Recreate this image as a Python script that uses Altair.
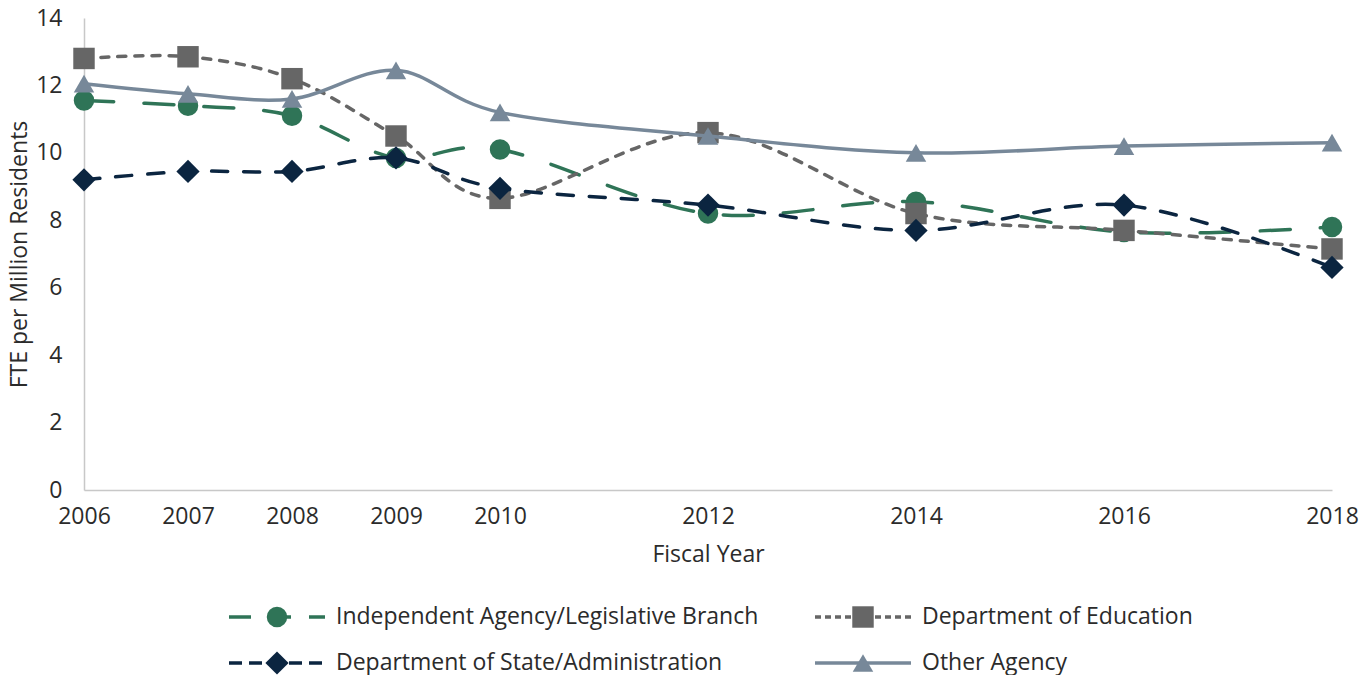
import altair as alt
import pandas as pd

# Fiscal years on the x axis
years = [2006, 2007, 2008, 2009, 2010, 2012, 2014, 2016, 2018]

# FTE per million residents, by agency type
independent = [11.55, 11.4, 11.1, 9.85, 10.1, 8.2, 8.55, 7.65, 7.8]
education = [12.8, 12.85, 12.2, 10.5, 8.65, 10.6, 8.2, 7.7, 7.15]
state = [9.2, 9.45, 9.45, 9.85, 8.95, 8.45, 7.7, 8.45, 6.6]
other = [12.05, 11.75, 11.6, 12.45, 11.2, 10.5, 10.0, 10.2, 10.3]

series_names = [
    "Independent Agency/Legislative Branch",
    "Department of Education",
    "Department of State/Administration",
    "Other Agency",
]
series_values = [independent, education, state, other]

# Style per series: colour, marker, dash in chart, dash in legend, marker size
styles = {
    "Independent Agency/Legislative Branch": ("#2f7457", "circle", [30, 30], [22, 18], 420),
    "Department of Education": ("#666666", "square", [8, 9], [6, 4], 460),
    "Department of State/Administration": ("#0b2540", "diamond", [16, 16], [13, 7], 540),
    "Other Agency": ("#778899", "triangle-up", None, None, 420),
}

FONT = "Open Sans"
FS = 23
TEXT = "#2b2b2b"
W, H = 1248, 472

x_scale = alt.Scale(domain=[2006, 2018], nice=False, zero=False)
y_scale = alt.Scale(domain=[0, 14], nice=False)

layers = []
for name, vals in zip(series_names, series_values):
    color, shape, dash, _, size = styles[name]
    df = pd.DataFrame({"year": years, "fte": vals, "series": name})
    line_kw = dict(color=color, strokeWidth=3.5, interpolate="cardinal", strokeCap="round")
    if dash:
        line_kw["strokeDash"] = dash
    base = alt.Chart(df).encode(
        x=alt.X("year:Q", scale=x_scale,
                axis=alt.Axis(values=years, format="d", title="Fiscal Year",
                              grid=False, ticks=False, domainColor="#c8c8c8",
                              domainWidth=1.5, labelFont=FONT, labelFontSize=FS,
                              labelColor=TEXT, labelPadding=15, titleFont=FONT,
                              titleFontSize=FS, titleFontWeight="normal",
                              titleColor=TEXT, titlePadding=15, labelFlush=False)),
        y=alt.Y("fte:Q", scale=y_scale,
                axis=alt.Axis(values=[0, 2, 4, 6, 8, 10, 12, 14], grid=False,
                              ticks=False, domainColor="#c8c8c8", domainWidth=1.5,
                              title="FTE per Million Residents", labelFont=FONT,
                              labelFontSize=FS, labelColor=TEXT, labelPadding=22,
                              titleFont=FONT, titleFontSize=FS,
                              titleFontWeight="normal", titleColor=TEXT,
                              titlePadding=4)),
    )
    layers.append(base.mark_line(**line_kw))
    layers.append(base.mark_point(shape=shape, size=size, filled=True, color=color,
                                  opacity=1, strokeWidth=0))

plot = alt.layer(*layers).properties(width=W, height=H)

# Custom legend: two columns, two rows, line + marker + label
leg_col_start = [145, 731]
leg_line_len = 96
leg_rows = []
for i, name in enumerate(series_names):
    col, row = i % 2, i // 2
    x0 = leg_col_start[col]
    leg_rows.append({"series": name, "row": row, "x0": x0,
                     "x1": x0 + leg_line_len, "xm": x0 + leg_line_len / 2,
                     "xt": x0 + leg_line_len + 11})
leg_df = pd.DataFrame(leg_rows)

lx = alt.Scale(domain=[0, W], range=[0, W])
ly = alt.Scale(domain=[0, 1], range=[0, 46])

leg_layers = []
for name in series_names:
    color, shape, _, ldash, size = styles[name]
    d = leg_df[leg_df.series == name]
    rule_kw = dict(color=color, strokeWidth=3.5)
    if ldash:
        rule_kw["strokeDash"] = ldash
    b = alt.Chart(d)
    leg_layers.append(b.mark_rule(**rule_kw).encode(
        x=alt.X("x0:Q", scale=lx, axis=None), x2="x1:Q",
        y=alt.Y("row:Q", scale=ly, axis=None)))
    leg_layers.append(b.mark_point(shape=shape, size=size, filled=True, color=color,
                                   opacity=1, strokeWidth=0).encode(
        x=alt.X("xm:Q", scale=lx, axis=None), y=alt.Y("row:Q", scale=ly, axis=None)))
    leg_layers.append(b.mark_text(align="left", baseline="middle", font=FONT,
                                  fontSize=FS, color=TEXT).encode(
        x=alt.X("xt:Q", scale=lx, axis=None), y=alt.Y("row:Q", scale=ly, axis=None),
        text="series:N"))

legend = alt.layer(*leg_layers).properties(width=W, height=46)

chart = alt.vconcat(plot, legend, spacing=40).properties(
    padding={"left": 8, "top": 7, "right": 10, "bottom": 5},
    background="white",
).configure_view(stroke=None)

chart.save("out.html", embed_options={"renderer": "svg", "actions": False})
